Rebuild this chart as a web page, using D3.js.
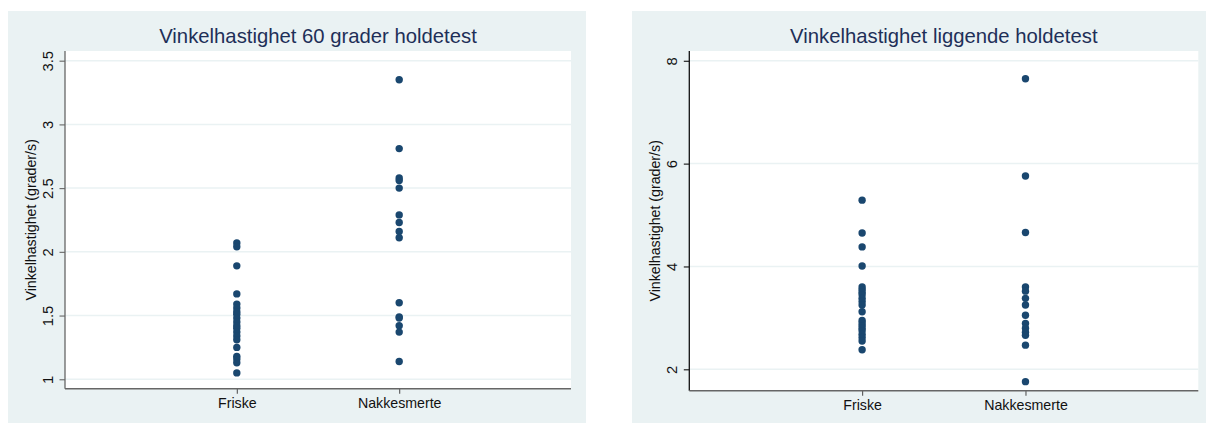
<!DOCTYPE html>
<html>
<head>
<meta charset="utf-8">
<script src="https://cdn.jsdelivr.net/npm/d3@7"></script>
<style>
  html, body { margin: 0; padding: 0; background: #ffffff; }
  svg { display: block; font-family: "Liberation Sans", Arial, Helvetica, sans-serif; }
</style>
</head>
<body>
<svg id="chart" width="1206" height="423"></svg>
<script>
// Groups on the x axis
const groups = ["Friske", "Nakkesmerte"];

// Angular velocity, 60 degree hold test (degrees/s)
const title60 = "Vinkelhastighet 60 grader holdetest";
const friske60 = [2.07, 2.04, 1.89, 1.67, 1.59, 1.56, 1.53, 1.51, 1.48, 1.45, 1.42, 1.40, 1.37, 1.34, 1.31, 1.25, 1.18, 1.16, 1.13, 1.05];
const nakke60 = [3.35, 2.81, 2.58, 2.56, 2.50, 2.29, 2.23, 2.16, 2.11, 1.60, 1.49, 1.48, 1.42, 1.37, 1.14];
const ticks60 = [1, 1.5, 2, 2.5, 3, 3.5];

// Angular velocity, lying hold test (degrees/s)
const titleLigg = "Vinkelhastighet liggende holdetest";
const friskeLigg = [5.29, 4.65, 4.38, 4.01, 3.60, 3.55, 3.50, 3.45, 3.38, 3.32, 3.25, 3.12, 2.95, 2.90, 2.85, 2.80, 2.75, 2.68, 2.62, 2.55, 2.38];
const nakkeLigg = [7.65, 5.76, 4.66, 3.60, 3.52, 3.38, 3.25, 3.05, 2.89, 2.80, 2.72, 2.66, 2.47, 1.76];
const ticksLigg = [2, 4, 6, 8];

const yTitle = "Vinkelhastighet (grader/s)";

const svg = d3.select("#chart");

const BG = "#eaf2f3";
const MARK = "#1a476f";
const TITLE_COLOR = "#1e2f58";

function drawPanel(opt) {
  const g = svg.append("g");

  // outer graph region
  g.append("rect")
    .attr("x", opt.bg[0]).attr("y", opt.bg[1])
    .attr("width", opt.bg[2]).attr("height", opt.bg[3])
    .attr("fill", BG);

  const x = d3.scaleLinear().domain([-0.058, 3.058]).range([opt.x0, opt.x1]);
  const y = d3.scaleLinear().domain(opt.yDomain).range([opt.y1, opt.y0]);

  // plot region
  g.append("rect")
    .attr("x", opt.x0).attr("y", opt.y0)
    .attr("width", opt.x1 - opt.x0).attr("height", opt.y1 - opt.y0)
    .attr("fill", "#ffffff");

  // horizontal grid
  g.append("g").selectAll("line").data(opt.ticks).join("line")
    .attr("x1", opt.x0).attr("x2", opt.x1)
    .attr("y1", d => y(d)).attr("y2", d => y(d))
    .attr("stroke", BG).attr("stroke-width", 1.5);

  // y axis
  const yAxis = g.append("g")
    .attr("transform", `translate(${opt.x0},0)`)
    .call(d3.axisLeft(y).tickValues(opt.ticks).tickFormat(d => String(d)).tickSize(5.5).tickSizeOuter(0));
  yAxis.select(".domain").remove();
  yAxis.selectAll(".tick line").attr("stroke", opt.yAxisColor).attr("stroke-width", 1.1);
  yAxis.selectAll(".tick text")
    .attr("x", null).attr("dy", null)
    .attr("transform", "translate(-12,0) rotate(-90)")
    .attr("text-anchor", "middle")
    .attr("font-size", 14.8)
    .attr("font-family", "Liberation Sans, Arial, sans-serif")
    .attr("fill", "#111");
  g.append("line")
    .attr("x1", opt.x0).attr("x2", opt.x0)
    .attr("y1", opt.y0).attr("y2", opt.y1)
    .attr("stroke", opt.yAxisColor).attr("stroke-width", 1.3);

  // x axis
  const xAxis = g.append("g")
    .attr("transform", `translate(0,${opt.y1})`)
    .call(d3.axisBottom(x).tickValues([1, 2]).tickFormat(d => groups[d - 1]).tickSize(5).tickSizeOuter(0));
  xAxis.select(".domain").remove();
  xAxis.selectAll(".tick line").attr("stroke", "#555").attr("stroke-width", 1.1);
  xAxis.selectAll(".tick text")
    .attr("y", 19).attr("dy", null)
    .attr("font-size", 14.2)
    .attr("font-family", "Liberation Sans, Arial, sans-serif")
    .attr("fill", "#111");
  g.append("line")
    .attr("x1", opt.x0).attr("x2", opt.x1)
    .attr("y1", opt.y1).attr("y2", opt.y1)
    .attr("stroke", "#666").attr("stroke-width", 1.6);

  // points
  const pts = [];
  opt.series.forEach((vals, i) => vals.forEach(v => pts.push({ g: i + 1, v })));
  g.append("g").selectAll("circle").data(pts).join("circle")
    .attr("cx", d => x(d.g))
    .attr("cy", d => y(d.v))
    .attr("r", 3.7)
    .attr("fill", MARK);

  // y axis title
  g.append("text")
    .attr("transform", `translate(${opt.x0 - 29},${(opt.y0 + opt.y1) / 2}) rotate(-90)`)
    .attr("text-anchor", "middle")
    .attr("font-size", 14.2)
    .attr("fill", "#111")
    .text(yTitle);

  // chart title
  g.append("text")
    .attr("x", (opt.x0 + opt.x1) / 2)
    .attr("y", 43)
    .attr("text-anchor", "middle")
    .attr("font-size", 20.3)
    .attr("fill", TITLE_COLOR)
    .text(opt.title);
}

drawPanel({
  bg: [8, 11, 578, 412],
  x0: 65, x1: 571, y0: 51, y1: 388.7,
  yDomain: [0.926, 3.576],
  ticks: ticks60,
  series: [friske60, nakke60],
  title: title60,
  yAxisColor: "#666"
});

drawPanel({
  bg: [632, 11, 574, 412],
  x0: 689.3, x1: 1198.3, y0: 51, y1: 390.7,
  yDomain: [1.584, 8.19],
  ticks: ticksLigg,
  series: [friskeLigg, nakkeLigg],
  title: titleLigg,
  yAxisColor: "#111"
});
</script>
</body>
</html>
